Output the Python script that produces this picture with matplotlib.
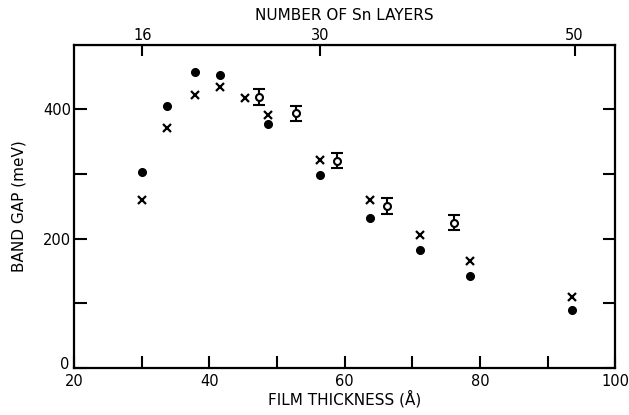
import matplotlib.pyplot as plt
import matplotlib.transforms as mtransforms
from matplotlib.ticker import FixedLocator

# film thickness (A) and band gap (meV)
dot_x = [30.0, 33.7, 37.8, 41.6, 48.7, 56.4, 63.8, 71.2, 78.5, 93.6]
dot_y = [304, 406, 458, 454, 378, 299, 232, 182, 142, 90]

cross_x = [30.0, 33.7, 37.8, 41.6, 45.3, 48.7, 56.4, 63.8, 71.2, 78.6, 93.6]
cross_y = [260, 371, 423, 434, 418, 391, 322, 260, 206, 166, 110]

open_x = [47.3, 52.8, 58.8, 66.3, 76.1]
open_y = [419, 394, 321, 251, 225]
open_err = [12, 12, 12, 12, 12]

layer_ticks = [16, 30, 50]
A_PER_LAYER = 1.88

plt.rcParams['font.family'] = 'DejaVu Sans'

fig = plt.figure(figsize=(6.29, 4.15), dpi=100)
ax = fig.add_axes([0.118, 0.113, 0.86, 0.779])

ax.plot(dot_x, dot_y, 'o', color='black', ms=5.5, zorder=3)
ax.plot(cross_x, cross_y, 'x', color='black', ms=5.5, mew=1.6, zorder=3)
ax.errorbar(open_x, open_y, yerr=open_err, fmt='o', mfc='white', mec='black',
            ms=5, mew=1.5, ecolor='black', elinewidth=1.5, capsize=4,
            capthick=1.5, zorder=3)

ax.set_xlim(20, 100)
ax.set_ylim(0, 500)
ax.xaxis.set_major_locator(FixedLocator([20, 40, 60, 80, 100]))
ax.xaxis.set_minor_locator(FixedLocator([30, 50, 70, 90]))
ax.yaxis.set_major_locator(FixedLocator([0, 200, 400]))
ax.yaxis.set_minor_locator(FixedLocator([100, 300]))

for s in ax.spines.values():
    s.set_linewidth(1.6)

ax.tick_params(which='both', direction='in', length=9, width=1.5,
               labelsize=10.5, top=False, right=True, labelright=False, pad=2)
ax.tick_params(axis='x', pad=4)

# the "0" on the y axis sits a little above the "20"
zero = ax.yaxis.get_major_ticks()[0].label1
zero.set_transform(zero.get_transform() +
                   mtransforms.ScaledTranslation(-0.02, 0.05, fig.dpi_scale_trans))

ax.set_xlabel('FILM THICKNESS (Å)', fontsize=11, labelpad=1)
ax.set_ylabel('BAND GAP (meV)', fontsize=11, labelpad=12)

top = ax.secondary_xaxis('top', functions=(lambda x: x / A_PER_LAYER,
                                           lambda n: n * A_PER_LAYER))
top.set_xticks(layer_ticks)
top.tick_params(direction='in', length=8, width=1.5, labelsize=10.5, pad=1)
top.set_xlabel('NUMBER OF Sn LAYERS', fontsize=11, labelpad=6)

fig.savefig('out.png', dpi=100)
